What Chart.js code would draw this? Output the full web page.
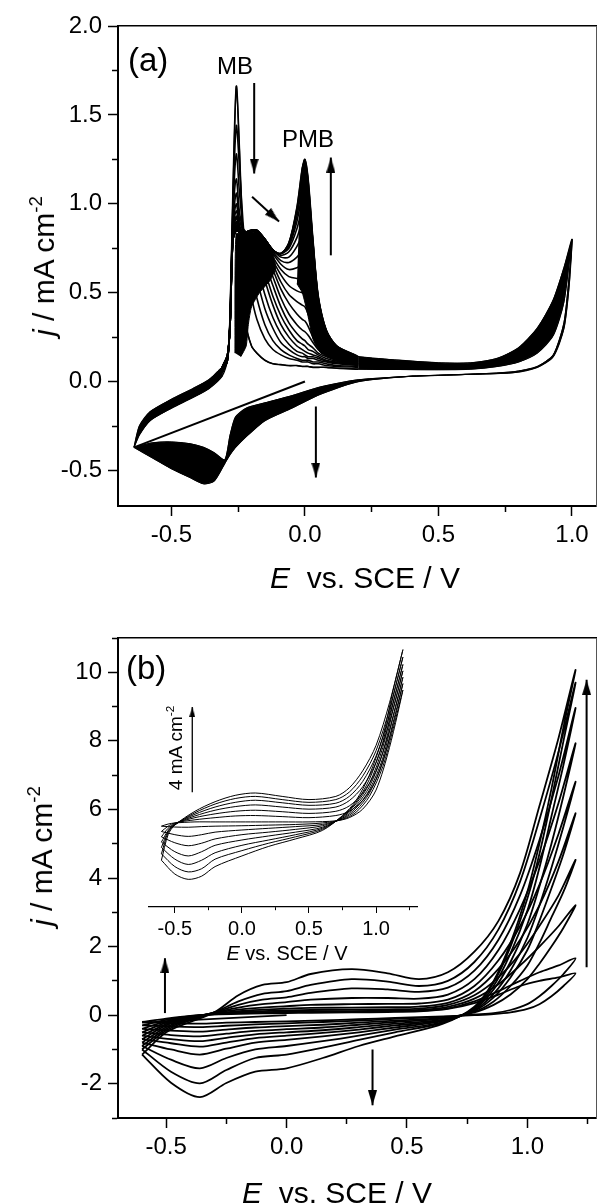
<!DOCTYPE html>
<html>
<head>
<meta charset="utf-8">
<title>MB / PMB cyclic voltammograms</title>
<script src="https://cdn.jsdelivr.net/npm/chart.js@4.4.1/dist/chart.umd.min.js"></script>
<style>
  html, body { margin: 0; padding: 0; background: #fff; }
  #page { position: relative; width: 598px; height: 1203px; overflow: hidden;
          font-family: "Liberation Sans", Arial, Helvetica, sans-serif; color: #000; }
  #page canvas { position: absolute; }
  .lbl { position: absolute; white-space: nowrap; line-height: 1; }
  .ytitle { transform: translate(-50%, -50%) rotate(-90deg); }
  sup { font-size: 62%; vertical-align: 0.62em; line-height: 0; }
</style>
</head>
<body>
<div id="page">
  <canvas id="chartA" width="598" height="590" style="left:0;top:0"></canvas>
  <canvas id="chartB" width="598" height="600" style="left:0;top:600px"></canvas>
  <canvas id="chartIn" width="270" height="330" style="left:148px;top:630px"></canvas>

  <div class="lbl" style="left:128px;top:43px;font-size:33px">(a)</div>
  <div class="lbl" style="left:217px;top:54px;font-size:24px">MB</div>
  <div class="lbl" style="left:282px;top:127px;font-size:24px">PMB</div>
  <div class="lbl ytitle" style="left:44px;top:266px;font-size:30px"><i>j</i> / mA cm<sup>-2</sup></div>
  <div class="lbl" style="left:215px;top:563px;width:300px;text-align:center;font-size:30px"><i>E</i>&nbsp; vs. SCE / V</div>

  <div class="lbl" style="left:126px;top:651px;font-size:33px">(b)</div>
  <div class="lbl ytitle" style="left:42px;top:856px;font-size:30px"><i>j</i> / mA cm<sup>-2</sup></div>
  <div class="lbl" style="left:187px;top:1178px;width:300px;text-align:center;font-size:30px"><i>E</i>&nbsp; vs. SCE / V</div>

  <div class="lbl ytitle" style="left:175px;top:748px;font-size:19px">4 mA cm<sup>-2</sup></div>
  <div class="lbl" style="left:187px;top:943px;width:200px;text-align:center;font-size:20px"><i>E</i> vs. SCE / V</div>
</div>

<script>
// ---------- (a) electropolymerisation of MB ----------
// first sweep from 0 V towards the cathodic limit
const aStartE = [0.0, -0.64];
const aStartJ = [0.0, -0.37];

// anodic branch below the MB wave (edges of the overlapping bundle)
const aLowE      = [-0.64, -0.62, -0.58, -0.5, -0.42, -0.36, -0.31];
const aLowUpperJ = [-0.37, -0.25, -0.17, -0.1, -0.04, 0.01, 0.08];
const aLowLowerJ = [-0.37, -0.3, -0.22, -0.15, -0.09, -0.04, 0.03];

// anodic branch through the MB and PMB peaks, one row per recorded cycle
const aMidE = [-0.31, -0.29, -0.28, -0.27, -0.257, -0.245, -0.232, -0.22, -0.2, -0.18, -0.15, -0.12,
               -0.09, -0.06, -0.03, -0.01, 0.0, 0.012, 0.03, 0.05, 0.08, 0.12, 0.2];
const aMidJ = [
  [0.05, 0.12, 0.4, 1.05, 1.66, 1.3, 0.75, 0.32, 0.2, 0.16, 0.12, 0.1, 0.095, 0.09, 0.09, 0.085, 0.085, 0.085, 0.08, 0.08, 0.08, 0.075, 0.07],
  [0.05, 0.12, 0.38, 0.98, 1.44, 1.2, 0.9, 0.7, 0.48, 0.35, 0.24, 0.18, 0.15, 0.13, 0.12, 0.11, 0.11, 0.11, 0.1, 0.1, 0.09, 0.085, 0.08],
  [0.05, 0.12, 0.37, 0.94, 1.28, 1.06, 0.87, 0.8, 0.62, 0.47, 0.32, 0.23, 0.18, 0.15, 0.13, 0.12, 0.12, 0.12, 0.11, 0.11, 0.1, 0.09, 0.085],
  [0.05, 0.12, 0.36, 0.9, 1.14, 0.95, 0.86, 0.84, 0.74, 0.58, 0.41, 0.3, 0.22, 0.18, 0.15, 0.14, 0.14, 0.13, 0.13, 0.12, 0.11, 0.1, 0.09],
  [0.05, 0.12, 0.36, 0.88, 1.06, 0.91, 0.85, 0.84, 0.79, 0.66, 0.49, 0.36, 0.27, 0.21, 0.17, 0.16, 0.15, 0.14, 0.14, 0.13, 0.115, 0.105, 0.092],
  [0.06, 0.13, 0.35, 0.86, 1.0, 0.88, 0.84, 0.84, 0.82, 0.73, 0.57, 0.43, 0.32, 0.25, 0.2, 0.18, 0.17, 0.16, 0.15, 0.14, 0.12, 0.11, 0.095],
  [0.06, 0.13, 0.35, 0.85, 0.96, 0.87, 0.84, 0.84, 0.83, 0.77, 0.62, 0.48, 0.37, 0.29, 0.23, 0.21, 0.2, 0.18, 0.17, 0.15, 0.13, 0.115, 0.098],
  [0.06, 0.13, 0.34, 0.83, 0.93, 0.86, 0.83, 0.84, 0.84, 0.8, 0.67, 0.54, 0.42, 0.33, 0.27, 0.24, 0.23, 0.21, 0.19, 0.16, 0.14, 0.12, 0.1],
  [0.06, 0.13, 0.34, 0.83, 0.92, 0.86, 0.83, 0.84, 0.85, 0.82, 0.71, 0.59, 0.47, 0.38, 0.32, 0.29, 0.28, 0.26, 0.22, 0.18, 0.15, 0.125, 0.102],
  [0.06, 0.13, 0.34, 0.82, 0.9, 0.85, 0.83, 0.84, 0.85, 0.83, 0.74, 0.63, 0.52, 0.44, 0.38, 0.35, 0.34, 0.31, 0.25, 0.2, 0.16, 0.13, 0.105],
  [0.07, 0.14, 0.34, 0.82, 0.89, 0.84, 0.83, 0.84, 0.85, 0.84, 0.76, 0.66, 0.56, 0.49, 0.45, 0.43, 0.42, 0.38, 0.3, 0.22, 0.17, 0.135, 0.108],
  [0.07, 0.14, 0.34, 0.81, 0.88, 0.84, 0.83, 0.84, 0.85, 0.84, 0.77, 0.68, 0.6, 0.54, 0.51, 0.5, 0.5, 0.45, 0.34, 0.25, 0.18, 0.14, 0.11],
  [0.07, 0.14, 0.34, 0.81, 0.87, 0.84, 0.83, 0.84, 0.85, 0.85, 0.78, 0.7, 0.63, 0.59, 0.58, 0.58, 0.58, 0.53, 0.4, 0.28, 0.2, 0.145, 0.112],
  [0.07, 0.14, 0.33, 0.8, 0.87, 0.84, 0.83, 0.84, 0.85, 0.85, 0.79, 0.72, 0.66, 0.63, 0.64, 0.66, 0.66, 0.6, 0.45, 0.31, 0.21, 0.15, 0.115],
  [0.07, 0.14, 0.33, 0.8, 0.86, 0.84, 0.83, 0.84, 0.85, 0.85, 0.8, 0.73, 0.68, 0.67, 0.7, 0.74, 0.75, 0.68, 0.5, 0.34, 0.22, 0.155, 0.118],
  [0.07, 0.14, 0.33, 0.8, 0.86, 0.84, 0.83, 0.84, 0.85, 0.85, 0.8, 0.74, 0.7, 0.7, 0.76, 0.82, 0.83, 0.76, 0.56, 0.37, 0.24, 0.16, 0.12],
  [0.08, 0.15, 0.33, 0.79, 0.85, 0.84, 0.83, 0.84, 0.85, 0.85, 0.8, 0.74, 0.71, 0.73, 0.81, 0.9, 0.92, 0.84, 0.62, 0.4, 0.25, 0.17, 0.122],
  [0.08, 0.15, 0.33, 0.79, 0.85, 0.84, 0.83, 0.84, 0.85, 0.85, 0.8, 0.74, 0.72, 0.75, 0.86, 0.98, 1.0, 0.92, 0.67, 0.43, 0.26, 0.18, 0.125],
  [0.08, 0.15, 0.33, 0.79, 0.85, 0.84, 0.83, 0.84, 0.85, 0.85, 0.8, 0.74, 0.72, 0.76, 0.9, 1.05, 1.07, 0.98, 0.71, 0.44, 0.27, 0.185, 0.128],
  [0.08, 0.15, 0.33, 0.79, 0.85, 0.84, 0.83, 0.84, 0.85, 0.85, 0.8, 0.74, 0.72, 0.77, 0.93, 1.11, 1.14, 1.04, 0.75, 0.46, 0.28, 0.19, 0.13],
  [0.08, 0.15, 0.33, 0.79, 0.85, 0.84, 0.83, 0.84, 0.85, 0.85, 0.8, 0.74, 0.72, 0.78, 0.96, 1.16, 1.2, 1.09, 0.78, 0.47, 0.285, 0.195, 0.135],
  [0.08, 0.15, 0.33, 0.79, 0.85, 0.84, 0.83, 0.84, 0.85, 0.85, 0.8, 0.74, 0.72, 0.78, 0.98, 1.2, 1.25, 1.14, 0.8, 0.48, 0.29, 0.2, 0.14]
];

// dense overlap of the cycles under the MB plateau
const aCoreE = [-0.262, -0.258, -0.23, -0.2, -0.17, -0.14, -0.12, -0.11, -0.13, -0.17, -0.2, -0.212, -0.22, -0.24];
const aCoreJ = [0.16, 0.83, 0.83, 0.84, 0.83, 0.77, 0.72, 0.64, 0.57, 0.5, 0.42, 0.32, 0.2, 0.14];
// overlapping falling edges of the PMB peak
const aPmbE = [-0.02, -0.01, 0.0, 0.012, 0.03, 0.05, 0.08, 0.12, 0.2, 0.12, 0.06, 0.03, 0.01, -0.01, -0.03];
const aPmbJ = [1.0, 1.2, 1.25, 1.14, 0.8, 0.48, 0.29, 0.2, 0.14, 0.12, 0.16, 0.24, 0.38, 0.5, 0.55];

// anodic branch up to the anodic limit (first / last cycle)
const aHighE      = [0.2, 0.35, 0.5, 0.62, 0.72, 0.8, 0.87, 0.93, 0.97, 1.0];
const aHighOuterJ = [0.14, 0.12, 0.105, 0.105, 0.13, 0.19, 0.3, 0.46, 0.64, 0.8];
const aHighInnerJ = [0.07, 0.068, 0.067, 0.07, 0.085, 0.11, 0.16, 0.26, 0.45, 0.8];

// cathodic branch (first / last cycle)
const aRevE      = [1.0, 0.99, 0.97, 0.93, 0.87, 0.78, 0.6, 0.4, 0.2, 0.06, -0.05, -0.15, -0.22, -0.26, -0.28, -0.3, -0.34, -0.38, -0.43, -0.5, -0.57, -0.64];
const aRevFirstJ = [0.8, 0.55, 0.3, 0.14, 0.08, 0.05, 0.04, 0.03, 0.01, -0.03, -0.08, -0.12, -0.15, -0.2, -0.3, -0.44, -0.4, -0.37, -0.35, -0.34, -0.345, -0.37];
const aRevLastJ  = [0.8, 0.6, 0.33, 0.15, 0.085, 0.055, 0.04, 0.03, 0.0, -0.07, -0.15, -0.22, -0.31, -0.37, -0.41, -0.46, -0.56, -0.575, -0.54, -0.49, -0.43, -0.37];

// arrows: [E tail, j tail, E tip, j tip]
const aArrows = [[-0.19, 1.68, -0.19, 1.17], [-0.198, 1.04, -0.097, 0.9], [0.097, 0.71, 0.097, 1.26], [0.041, -0.14, 0.041, -0.54]];

// ---------- (b) cycling of the PMB film ----------
const bStartE = [0.0, -0.6];
const bStartJ = [0.0, -0.22];
const bFwdE = [-0.6, -0.5, -0.4, -0.3, -0.2, -0.1, 0.0, 0.1, 0.27, 0.42, 0.55, 0.67, 0.78, 0.88, 0.97, 1.05, 1.13, 1.2];
const bFwdJ = [
  [-0.2, -0.1, -0.02, 0.02, 0.04, 0.05, 0.06, 0.07, 0.08, 0.09, 0.11, 0.18, 0.35, 0.6, 0.85, 1.0, 1.1, 1.22],
  [-0.3, -0.14, -0.03, 0.02, 0.05, 0.07, 0.08, 0.09, 0.1, 0.11, 0.13, 0.2, 0.4, 0.7, 1.0, 1.25, 1.45, 1.66],
  [-0.4, -0.18, -0.04, 0.03, 0.07, 0.09, 0.1, 0.11, 0.12, 0.13, 0.15, 0.24, 0.48, 0.9, 1.45, 2.0, 2.6, 3.21],
  [-0.5, -0.22, -0.05, 0.04, 0.09, 0.12, 0.14, 0.15, 0.16, 0.17, 0.19, 0.3, 0.58, 1.1, 1.8, 2.6, 3.5, 4.53],
  [-0.6, -0.26, -0.06, 0.05, 0.12, 0.16, 0.19, 0.21, 0.22, 0.23, 0.25, 0.36, 0.7, 1.35, 2.2, 3.2, 4.5, 5.89],
  [-0.7, -0.3, -0.08, 0.06, 0.16, 0.22, 0.26, 0.3, 0.32, 0.33, 0.34, 0.45, 0.85, 1.6, 2.6, 3.8, 5.3, 6.81],
  [-0.8, -0.35, -0.1, 0.07, 0.22, 0.32, 0.38, 0.45, 0.5, 0.5, 0.48, 0.6, 1.05, 1.9, 3.1, 4.5, 6.2, 7.93],
  [-0.9, -0.4, -0.12, 0.08, 0.3, 0.45, 0.52, 0.65, 0.78, 0.75, 0.68, 0.8, 1.3, 2.2, 3.5, 5.1, 7.0, 8.96],
  [-1.0, -0.45, -0.15, 0.08, 0.4, 0.62, 0.7, 0.88, 1.05, 0.98, 0.85, 1.0, 1.55, 2.5, 3.9, 5.7, 7.7, 9.7],
  [-1.15, -0.5, -0.2, 0.08, 0.58, 0.88, 0.96, 1.2, 1.34, 1.22, 1.05, 1.25, 1.85, 2.75, 4.15, 6.1, 8.1, 10.07]
];
const bRevE = [1.2, 1.15, 1.1, 1.05, 1.0, 0.93, 0.86, 0.78, 0.65, 0.45, 0.3, 0.15, 0.0, -0.13, -0.25, -0.36, -0.48, -0.6];
const bRevJ = [
  [1.22, 0.85, 0.55, 0.32, 0.18, 0.08, 0.03, 0.0, -0.04, -0.08, -0.12, -0.15, -0.18, -0.2, -0.22, -0.25, -0.23, -0.2],
  [1.66, 1.2, 0.85, 0.55, 0.32, 0.15, 0.06, 0.02, -0.05, -0.11, -0.16, -0.2, -0.24, -0.27, -0.31, -0.35, -0.33, -0.3],
  [3.21, 2.55, 2.0, 1.5, 1.05, 0.6, 0.3, 0.08, -0.08, -0.16, -0.22, -0.28, -0.32, -0.36, -0.42, -0.48, -0.45, -0.4],
  [4.53, 3.6, 2.85, 2.1, 1.45, 0.85, 0.4, 0.1, -0.1, -0.2, -0.28, -0.36, -0.41, -0.46, -0.54, -0.62, -0.58, -0.5],
  [5.89, 4.7, 3.7, 2.75, 1.9, 1.1, 0.52, 0.13, -0.13, -0.25, -0.35, -0.44, -0.5, -0.56, -0.66, -0.76, -0.7, -0.6],
  [6.81, 5.5, 4.3, 3.2, 2.25, 1.3, 0.62, 0.15, -0.15, -0.3, -0.42, -0.52, -0.6, -0.67, -0.8, -0.92, -0.82, -0.7],
  [7.93, 6.4, 5.0, 3.75, 2.65, 1.55, 0.75, 0.18, -0.17, -0.36, -0.5, -0.62, -0.72, -0.8, -0.98, -1.15, -1.0, -0.8],
  [8.96, 7.3, 5.8, 4.3, 3.05, 1.8, 0.85, 0.2, -0.2, -0.42, -0.6, -0.76, -0.9, -1.0, -1.25, -1.55, -1.3, -0.9],
  [9.7, 8.0, 6.3, 4.7, 3.4, 2.0, 0.95, 0.22, -0.22, -0.5, -0.72, -0.95, -1.15, -1.25, -1.6, -1.99, -1.65, -1.0],
  [10.07, 8.4, 6.6, 5.0, 3.6, 2.1, 1.0, 0.25, -0.25, -0.62, -0.9, -1.25, -1.55, -1.65, -1.98, -2.39, -1.97, -1.15]
];
const bArrows = [[-0.505, 0.06, -0.505, 1.66], [0.357, -1.0, 0.357, -2.63], [1.246, 1.4, 1.246, 9.78]];

// ---------- inset: PMB film in monomer-free solution ----------
const inFwdE = [-0.6, -0.55, -0.5, -0.35, -0.2, -0.05, 0.1, 0.3, 0.5, 0.7, 0.8, 0.9, 1.0, 1.1, 1.2];
const inFwdJ = [
  [-0.2, -0.1, -0.05, 0.0, 0.0, 0.0, 0.0, 0.0, 0.0, 0.05, 0.2, 0.6, 1.5, 3.5, 6.2],
  [-0.45, -0.2, -0.05, 0.1, 0.2, 0.28, 0.3, 0.25, 0.2, 0.3, 0.5, 1.0, 2.0, 3.9, 6.5],
  [-0.7, -0.3, -0.08, 0.2, 0.38, 0.5, 0.55, 0.48, 0.4, 0.5, 0.75, 1.35, 2.4, 4.3, 6.8],
  [-0.95, -0.4, -0.1, 0.28, 0.55, 0.72, 0.8, 0.7, 0.6, 0.7, 1.0, 1.65, 2.8, 4.7, 7.1],
  [-1.2, -0.45, -0.12, 0.36, 0.7, 0.92, 1.02, 0.9, 0.78, 0.88, 1.2, 1.9, 3.1, 5.0, 7.4],
  [-1.5, -0.5, -0.14, 0.43, 0.84, 1.1, 1.2, 1.05, 0.92, 1.05, 1.4, 2.15, 3.35, 5.3, 7.75],
  [-1.8, -0.6, -0.15, 0.5, 0.95, 1.25, 1.36, 1.2, 1.05, 1.2, 1.6, 2.4, 3.6, 5.6, 8.1]
];
const inRevE = [1.2, 1.12, 1.05, 0.95, 0.85, 0.75, 0.6, 0.4, 0.2, 0.0, -0.2, -0.3, -0.4, -0.5, -0.6];
const inRevJ = [
  [6.2, 4.2, 2.6, 1.2, 0.45, 0.12, -0.05, -0.12, -0.15, -0.18, -0.2, -0.22, -0.25, -0.24, -0.2],
  [6.5, 4.5, 2.8, 1.35, 0.55, 0.15, -0.12, -0.22, -0.3, -0.38, -0.48, -0.6, -0.68, -0.6, -0.45],
  [6.8, 4.8, 3.0, 1.5, 0.65, 0.18, -0.18, -0.35, -0.48, -0.6, -0.8, -1.0, -1.12, -0.98, -0.7],
  [7.1, 5.1, 3.25, 1.65, 0.75, 0.22, -0.25, -0.48, -0.66, -0.85, -1.1, -1.4, -1.6, -1.4, -0.95],
  [7.4, 5.4, 3.5, 1.8, 0.85, 0.25, -0.3, -0.6, -0.85, -1.1, -1.45, -1.8, -2.0, -1.75, -1.2],
  [7.75, 5.7, 3.75, 2.0, 0.92, 0.28, -0.35, -0.7, -1.0, -1.35, -1.75, -2.2, -2.35, -2.1, -1.5],
  [8.1, 6.0, 4.0, 2.2, 1.0, 0.3, -0.4, -0.8, -1.15, -1.6, -2.1, -2.55, -2.7, -2.45, -1.8]
];
// 4 mA cm-2 scale bar
const inArrows = [[-0.37, 1.4, -0.37, 5.4]];

// ---------- helpers ----------
Chart.defaults.font.family = '"Liberation Sans", Arial, Helvetica, sans-serif';
Chart.defaults.color = '#000';

const pts = (xs, ys) => xs.map((x, i) => ({ x: x, y: ys[i] }));
const join = (...parts) => parts.reduce((acc, p, k) => acc.concat(k === 0 ? p : p.slice(1)), []);
const isHalf = v => Math.abs(v * 2 - Math.round(v * 2)) < 1e-6;
const halfLabel = v => isHalf(v) ? (Math.round(v * 2) / 2).toFixed(1) : '';
const evenLabel = v => Math.round(v) % 2 === 0 ? String(Math.round(v)) : '';

function arrowHead(w, len) {
  const c = document.createElement('canvas');
  c.width = w; c.height = 2 * len;
  const g = c.getContext('2d');
  g.fillStyle = '#000';
  g.beginPath();
  g.moveTo(w / 2, len); g.lineTo(w, 2 * len); g.lineTo(0, 2 * len);
  g.closePath(); g.fill();
  return c;
}

function lineSet(data, width, tension) {
  return { data: data, showLine: true, fill: false, borderColor: '#000', borderWidth: width,
           pointRadius: 0, tension: tension };
}

function bandSet(data, tension) {
  return { data: data, showLine: true, fill: 'shape', backgroundColor: '#000', borderColor: '#000',
           borderWidth: 1, pointRadius: 0, tension: tension };
}

function arrowSet(a, head, width) {
  return {
    data: [{ x: a[0], y: a[1] }, { x: a[2], y: a[3] }],
    showLine: true, fill: false, borderColor: '#000', borderWidth: width, tension: 0,
    pointRadius: ctx => ctx.dataIndex === 1 ? 4 : 0,
    pointStyle: head,
    rotation: ctx => {
      const xs = ctx.chart.scales.x, ys = ctx.chart.scales.y;
      const dx = xs.getPixelForValue(a[2]) - xs.getPixelForValue(a[0]);
      const dy = ys.getPixelForValue(a[3]) - ys.getPixelForValue(a[1]);
      return Math.atan2(dx, -dy) * 180 / Math.PI;
    }
  };
}

// framed axes with outward ticks, short minor ticks
function frameScales(o) {
  return {
    x: {
      type: 'linear', position: 'bottom', min: o.xmin, max: o.xmax,
      afterFit: s => { s.height = o.xh; },
      ticks: { stepSize: o.xstep, includeBounds: false, autoSkip: false, maxRotation: 0,
               padding: 5, font: { size: o.tickSize }, callback: o.xlabel },
      grid: { drawOnChartArea: false, drawTicks: true, tickLength: 10, tickWidth: 1.5, tickColor: '#000',
              tickBorderDash: c => (c.tick && !o.xmajor(c.tick.value)) ? [5, 30] : [] },
      border: { color: '#000', width: 2 }
    },
    y: {
      type: 'linear', position: 'left', min: o.ymin, max: o.ymax,
      afterFit: s => { s.width = 118; },
      ticks: { stepSize: o.ystep, includeBounds: false, autoSkip: false,
               padding: 6, font: { size: o.tickSize }, callback: o.ylabel },
      grid: { drawOnChartArea: false, drawTicks: true, tickLength: 10, tickWidth: 1.5, tickColor: '#000',
              tickBorderDash: c => (c.tick && !o.ymajor(c.tick.value)) ? [0, 4, 30, 0] : [] },
      border: { color: '#000', width: 2 }
    },
    xTop: {
      type: 'linear', position: 'top', min: o.xmin, max: o.xmax,
      ticks: { display: false }, grid: { display: false, drawTicks: false },
      border: { display: true, color: '#000', width: 1.5 }
    },
    yRight: {
      type: 'linear', position: 'right', min: o.ymin, max: o.ymax,
      ticks: { display: false }, grid: { display: false, drawTicks: false },
      border: { display: true, color: '#555', width: 1 }
    }
  };
}

const baseOptions = {
  responsive: false, animation: false, devicePixelRatio: 1, events: [],
  plugins: { legend: { display: false }, tooltip: { enabled: false } }
};

const bigHead = arrowHead(9, 15);
const smallHead = arrowHead(6, 10);

// ---------- panel (a) ----------
const aSets = [];
aSets.push(bandSet(pts(aLowE, aLowUpperJ).concat(pts(aLowE, aLowLowerJ).reverse()), 0.2));
aSets.push(bandSet(pts(aRevE, aRevLastJ).concat(pts(aRevE, aRevFirstJ).reverse()), 0.2));
aSets.push(bandSet(pts(aHighE, aHighOuterJ).concat(pts(aHighE, aHighInnerJ).reverse()), 0.2));
aSets.push(bandSet(pts(aCoreE, aCoreJ), 0.2));
aSets.push(bandSet(pts(aPmbE, aPmbJ), 0.2));
aMidJ.forEach(js => aSets.push(lineSet(pts(aMidE, js), 1.6, 0.3)));
aSets.push(lineSet(join(pts(aLowE, aLowLowerJ), pts(aMidE, aMidJ[0]), pts(aHighE, aHighInnerJ), pts(aRevE, aRevFirstJ)), 1.2, 0.25));
aSets.push(lineSet(join(pts(aLowE, aLowUpperJ), pts(aMidE, aMidJ[aMidJ.length - 1]), pts(aHighE, aHighOuterJ), pts(aRevE, aRevLastJ)), 1.2, 0.25));
aSets.push(lineSet(pts(aStartE, aStartJ), 2, 0));
aArrows.forEach(a => aSets.push(arrowSet(a, bigHead, 2)));

new Chart(document.getElementById('chartA'), {
  type: 'scatter',
  data: { datasets: aSets },
  options: Object.assign({}, baseOptions, {
    layout: { autoPadding: false, padding: { left: 0, right: 2, top: 26, bottom: 0 } },
    scales: frameScales({ xmin: -0.7, xmax: 1.09, xstep: 0.25, ymin: -0.7, ymax: 2.0, ystep: 0.25, xh: 84,
                          tickSize: 24, xlabel: halfLabel, ylabel: halfLabel, xmajor: isHalf, ymajor: isHalf })
  })
});

// ---------- panel (b) ----------
const bSets = [];
bFwdJ.forEach((js, k) => bSets.push(lineSet(join(pts(bFwdE, js), pts(bRevE, bRevJ[k])), 1.8, 0.3)));
bSets.push(lineSet(pts(bStartE, bStartJ), 1.8, 0));
bArrows.forEach(a => bSets.push(arrowSet(a, bigHead, 2)));

new Chart(document.getElementById('chartB'), {
  type: 'scatter',
  data: { datasets: bSets },
  options: Object.assign({}, baseOptions, {
    layout: { autoPadding: false, padding: { left: 0, right: 2, top: 38, bottom: 0 } },
    scales: frameScales({ xmin: -0.7, xmax: 1.285, xstep: 0.25, ymin: -3, ymax: 11, ystep: 1, xh: 82,
                          tickSize: 24, xlabel: halfLabel, ylabel: evenLabel,
                          xmajor: isHalf, ymajor: v => Math.round(v) % 2 === 0 })
  })
});

// ---------- inset ----------
const inSets = [];
inFwdJ.forEach((js, k) => inSets.push(lineSet(join(pts(inFwdE, js), pts(inRevE, inRevJ[k])), 1, 0.3)));
inArrows.forEach(a => inSets.push(arrowSet(a, smallHead, 1.3)));

new Chart(document.getElementById('chartIn'), {
  type: 'scatter',
  data: { datasets: inSets },
  options: Object.assign({}, baseOptions, {
    layout: { autoPadding: false, padding: { left: 0, right: 1, top: 9, bottom: 0 } },
    scales: {
      x: {
        type: 'linear', position: 'bottom', min: -0.7, max: 1.305,
        afterFit: s => { s.height = 53; },
        ticks: { stepSize: 0.25, includeBounds: false, autoSkip: false, maxRotation: 0,
                 padding: 4, font: { size: 20 }, callback: halfLabel },
        grid: { drawOnChartArea: false, drawTicks: true, tickLength: 6, tickWidth: 1, tickColor: '#000',
                tickBorderDash: c => (c.tick && !isHalf(c.tick.value)) ? [3, 20] : [] },
        border: { color: '#000', width: 1.2 }
      },
      y: { type: 'linear', position: 'left', min: -4, max: 8.6,
           ticks: { display: false }, grid: { display: false, drawTicks: false }, border: { display: false } }
    }
  })
});
</script>
</body>
</html>
